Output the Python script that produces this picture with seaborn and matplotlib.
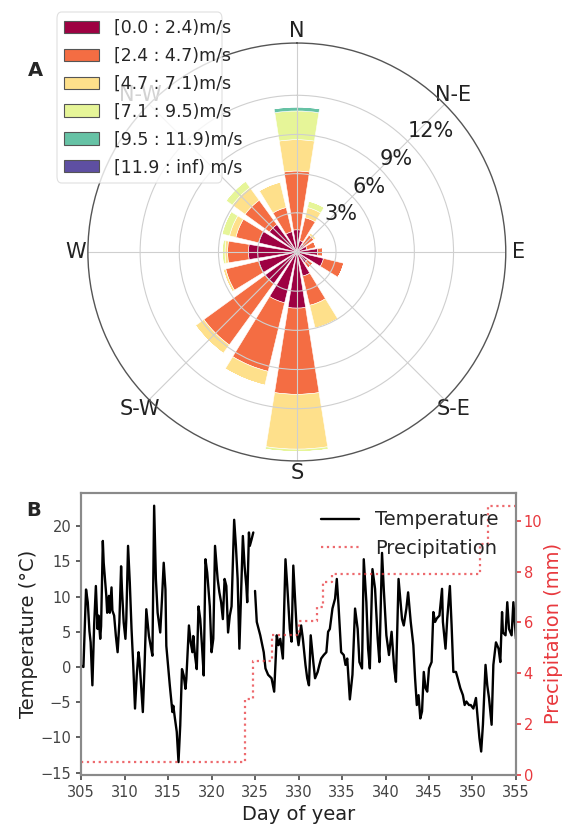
import numpy as np
import pandas as pd
import matplotlib.pyplot as plt
import matplotlib.patches as mpatches
import seaborn as sns

# ---- Panel A: wind rose, frequency (%) per direction and speed class ----
directions = ['N', 'NNE', 'NE', 'ENE', 'E', 'ESE', 'SE', 'SSE',
              'S', 'SSW', 'SW', 'WSW', 'W', 'WNW', 'NW', 'NNW']
bearings = [0, 22.5, 45, 67.5, 90, 112.5, 135, 157.5,
            180, 202.5, 225, 247.5, 270, 292.5, 315, 337.5]
speed_labels = ['[0.0 : 2.4)m/s', '[2.4 : 4.7)m/s', '[4.7 : 7.1)m/s',
                '[7.1 : 9.5)m/s', '[9.5 : 11.9)m/s', '[11.9 : inf) m/s']
freq_0_24 = [1.7, 0.9, 0.7, 0.8, 1.6, 2.1, 1.0, 1.9, 4.3, 4.0, 3.0, 3.0, 3.7, 3.0, 2.6, 1.6]
freq_24_47 = [4.5, 1.8, 0.9, 0.7, 0.4, 1.6, 0.5, 2.3, 6.6, 5.4, 5.8, 2.6, 1.6, 1.8, 2.3, 1.9]
freq_47_71 = [2.4, 0.8, 0.2, 0.0, 0.0, 0.0, 0.0, 1.8, 4.2, 1.1, 0.8, 0.2, 0.2, 0.5, 1.2, 2.0]
freq_71_95 = [2.2, 0.5, 0.0, 0.0, 0.0, 0.0, 0.0, 0.0, 0.2, 0.0, 0.0, 0.0, 0.2, 0.6, 0.6, 0.0]
freq_95_119 = [0.3, 0.0, 0.0, 0.0, 0.0, 0.0, 0.0, 0.0, 0.0, 0.0, 0.0, 0.0, 0.0, 0.0, 0.0, 0.0]
freq_119_inf = [0.0] * 16
compass_angles = [0, 45, 90, 135, 180, 225, 270, 315]
compass_labels = ['N', 'N-E', 'E', 'S-E', 'S', 'S-W', 'W', 'N-W']
radial_ticks = [3, 6, 9, 12]

# ---- Panel B: temperature (two pieces, gap in the record) and precipitation ----
temp_day_a = [305.0, 305.27, 305.57, 305.77, 305.96, 306.1, 306.3, 306.5, 306.7, 306.9,
              307.0, 307.2, 307.3, 307.5, 307.6, 307.9, 308.0, 308.2, 308.3, 308.5,
              308.6, 308.8, 309.0, 309.2, 309.4, 309.6, 309.7, 309.9, 310.1, 310.2,
              310.4, 310.6, 310.8, 311.0, 311.2, 311.4, 311.6, 311.7, 311.9, 312.1,
              312.3, 312.5, 312.8, 313.0, 313.2, 313.4, 313.6, 313.8, 314.1, 314.3,
              314.5, 314.7, 314.8, 315.0, 315.2, 315.5, 315.6, 315.8, 316.0, 316.2,
              316.4, 316.6, 316.8, 317.0, 317.1, 317.4, 317.6, 317.8, 317.9, 318.1,
              318.3, 318.5, 318.7, 318.9, 319.1, 319.3, 319.5, 319.8, 320.0, 320.2,
              320.4, 320.7, 320.9, 321.1, 321.3, 321.5, 321.7, 321.9, 322.1, 322.3,
              322.6, 322.8, 323.0, 323.2, 323.4, 323.6, 323.8, 324.0, 324.1, 324.3,
              324.4, 324.6, 324.8]
temp_a = [0.2, 0.0, 11.0, 9.2, 5.1, 3.5, -2.6, 5.9, 11.5, 5.4,
          7.3, 4.0, 5.8, 17.9, 14.8, 10.1, 7.7, 10.1, 7.7, 11.3,
          8.0, 7.3, 4.4, 2.1, 6.3, 14.3, 11.0, 6.3, 4.0, 6.8,
          17.2, 12.0, 5.4, 0.2, -5.9, -1.2, 2.1, 1.1, -2.6, -6.4,
          0.2, 8.2, 4.4, 3.0, 1.6, 22.9, 12.5, 7.7, 4.9, 9.6,
          14.8, 11.0, 3.0, 0.2, -2.6, -6.4, -5.5, -7.4, -9.2, -13.5,
          -8.3, -0.3, -1.2, -3.1, -1.7, 5.9, 3.5, 2.1, 4.4, 1.6,
          -0.3, 8.6, 6.8, 3.0, -1.2, 15.3, 13.4, 8.6, 2.1, 4.0,
          17.2, 12.5, 10.6, 9.2, 6.8, 12.5, 11.5, 4.9, 7.3, 8.6,
          20.9, 17.2, 12.5, 2.6, 10.6, 18.6, 14.3, 11.5, 9.2, 19.1,
          17.2, 18.1, 19.1]
temp_day_b = [325.0, 325.2, 325.6, 326.0, 326.2, 326.5, 326.9, 327.2, 327.5, 327.7,
              327.9, 328.2, 328.5, 328.7, 329.0, 329.2, 329.4, 329.6, 329.8, 330.0,
              330.3, 330.5, 330.8, 331.0, 331.2, 331.4, 331.7, 331.9, 332.2, 332.4,
              332.6, 332.9, 333.2, 333.4, 333.6, 333.9, 334.2, 334.4, 334.6, 334.9,
              335.2, 335.4, 335.6, 335.9, 336.2, 336.5, 336.8, 337.0, 337.3, 337.5,
              337.8, 338.0, 338.2, 338.5, 338.8, 339.1, 339.3, 339.6, 339.8, 340.1,
              340.4, 340.7, 341.0, 341.2, 341.5, 341.9, 342.1, 342.4, 342.6, 342.9,
              343.2, 343.4, 343.6, 343.8, 344.0, 344.2, 344.4, 344.6, 344.8, 345.0,
              345.3, 345.5, 345.7, 345.9, 346.2, 346.5, 346.6, 346.9, 347.1, 347.4,
              347.6, 347.8, 348.1, 348.3, 348.6, 348.9, 349.1, 349.3, 349.6, 349.8,
              350.1, 350.4, 350.6, 350.8, 351.0, 351.2, 351.5, 351.7, 351.9, 352.2,
              352.4, 352.7, 353.0, 353.2, 353.4, 353.5, 353.8, 354.0, 354.2, 354.5,
              354.7, 355.0]
temp_b = [10.8, 6.4, 4.5, 2.1, -0.2, -1.1, -1.6, -3.5, 4.5, 3.1,
          4.0, 1.2, 15.3, 11.6, 5.4, 3.6, 14.4, 9.7, 5.0, 3.1,
          5.9, 4.0, 0.3, -1.6, -2.6, 4.5, 0.7, -1.6, -0.7, 0.3,
          1.2, 1.7, 2.1, 5.0, 5.4, 8.3, 9.7, 12.5, 8.7, 2.1,
          1.7, 0.3, 1.2, -4.6, -1.1, 8.3, 5.4, 0.7, -0.2, 15.3,
          9.2, 2.6, -0.2, 13.9, 11.1, 4.0, 0.7, 16.2, 11.1, 4.5,
          1.7, 5.0, -0.2, -2.1, 12.5, 6.8, 5.9, 8.3, 10.6, 6.4,
          3.1, -1.6, -5.4, -4.0, -7.3, -6.3, -0.7, -3.0, -3.5, -0.2,
          0.7, 7.8, 6.4, 6.9, 7.3, 11.1, 6.4, 2.6, 6.9, 11.5,
          5.9, -0.7, -0.7, -1.6, -3.0, -4.0, -5.4, -4.9, -5.4, -5.4,
          -5.9, -4.4, -7.3, -10.1, -12.0, -8.2, 0.3, -2.6, -4.4, -8.2,
          0.3, 3.5, 2.6, 0.7, 7.8, 4.9, 4.5, 9.2, 5.4, 4.5,
          9.2, 4.0]
precip_day = [305.0, 323.9, 324.8, 326.9, 330.0, 332.1, 332.85, 333.8, 350.9, 351.8, 355.0]
precip_mm = [0.5, 3.0, 4.5, 5.5, 6.05, 6.6, 7.6, 7.9, 9.1, 10.6, 10.6]

sns.set_style('ticks')
fig = plt.figure(figsize=(5.67, 8.27), dpi=100)

# wind rose
ax1 = fig.add_axes([0.155, 0.4426, 0.737, 0.5054], projection='polar')
ax1.set_theta_zero_location('N')
ax1.set_theta_direction(-1)
ax1.set_axisbelow('line')
theta = np.deg2rad(bearings)
width = np.deg2rad(360 / len(directions)) * 0.8
colors = plt.get_cmap('Spectral')(np.linspace(0, 1, 6))
bins = [freq_0_24, freq_24_47, freq_47_71, freq_71_95, freq_95_119, freq_119_inf]
bottom = np.zeros(len(directions))
for vals, c in zip(bins, colors):
    vals = np.array(vals)
    ax1.bar(theta, vals, width=width, bottom=bottom, color=c,
            edgecolor='white', linewidth=0.4)
    bottom += vals

ax1.set_ylim(0, 16)
ax1.set_yticks(radial_ticks)
ax1.set_yticklabels([])
for r in radial_ticks:
    ax1.text(np.deg2rad(45), r, f'{r}%', ha='left', va='bottom',
             fontsize=15, color='#222222')
ax1.set_xticks(np.deg2rad(compass_angles))
ax1.set_xticklabels(compass_labels, fontsize=15, color='#222222')
ax1.tick_params(axis='x', pad=-1.5)
ax1.grid(True, color='#cfcfcf', linewidth=0.8)
ax1.spines['polar'].set_color('#555555')
ax1.spines['polar'].set_linewidth(1.0)

# legend box is narrower than its labels in the original, so draw it separately
box = mpatches.FancyBboxPatch((57 / 567, 1 - 183 / 827), (222 - 57) / 567, (183 - 12) / 827,
                              boxstyle='round,pad=0,rounding_size=0.008',
                              transform=fig.transFigure, facecolor='white', alpha=0.8,
                              edgecolor='#d8d8d8', linewidth=0.8, zorder=4)
fig.add_artist(box)
handles = [mpatches.Rectangle((0, 0), 1, 1, facecolor=c, edgecolor='#555555', linewidth=0.8)
           for c in colors]
leg = fig.legend(handles, speed_labels, loc='upper left',
                 bbox_to_anchor=(57 / 567, 1 - 12 / 827), borderaxespad=0,
                 fontsize=12.5, labelspacing=0.57, frameon=False,
                 handletextpad=0.9)
leg.set_zorder(5)

# temperature / precipitation
ax2 = fig.add_axes([0.143, 0.063, 0.767, 0.341])
sns.lineplot(x=temp_day_a, y=temp_a, ax=ax2, color='black', linewidth=1.7,
             estimator=None, label='Temperature')
sns.lineplot(x=temp_day_b, y=temp_b, ax=ax2, color='black', linewidth=1.7,
             estimator=None)
ax3 = ax2.twinx()
sns.lineplot(x=precip_day, y=precip_mm, ax=ax3, color='#e8383d', alpha=0.75,
             linestyle=':', linewidth=1.6, drawstyle='steps-post',
             estimator=None, label='Precipitation')

ax2.set_xlim(305, 355)
ax2.set_xticks(range(305, 356, 5))
ax2.set_yticks(range(-15, 21, 5))
ax3.set_yticks(range(0, 11, 2))
ax2.set_xlabel('Day of year', fontsize=14, color='#222222')
ax2.set_ylabel('Temperature (°C)', fontsize=14, color='#222222', labelpad=2)
ax3.set_ylabel('Precipitation (mm)', fontsize=14, color='#e8383d', labelpad=1)
ax2.tick_params(labelsize=10.5, colors='#444444', length=3.5, width=1.2)
ax3.tick_params(axis='y', labelsize=10.5, colors='#e8383d', length=3.5, width=1.2, pad=2)
for a in (ax2, ax3):
    for s in a.spines.values():
        s.set_color('#8a8a8a')
        s.set_linewidth(1.5)
        s.set_visible(True)

h1, l1 = ax2.get_legend_handles_labels()
h2, l2 = ax3.get_legend_handles_labels()
if ax2.get_legend() is not None:
    ax2.get_legend().remove()
ax3.legend(h1 + h2, l1 + l2, loc='upper right', frameon=False, fontsize=14)

fig.text(35 / 567, 1 - 71 / 827, 'A', fontsize=14, fontweight='bold', ha='center', va='center')
fig.text(34 / 567, 1 - 510 / 827, 'B', fontsize=14, fontweight='bold', ha='center', va='center')

fig.savefig('out.png', dpi=100)
